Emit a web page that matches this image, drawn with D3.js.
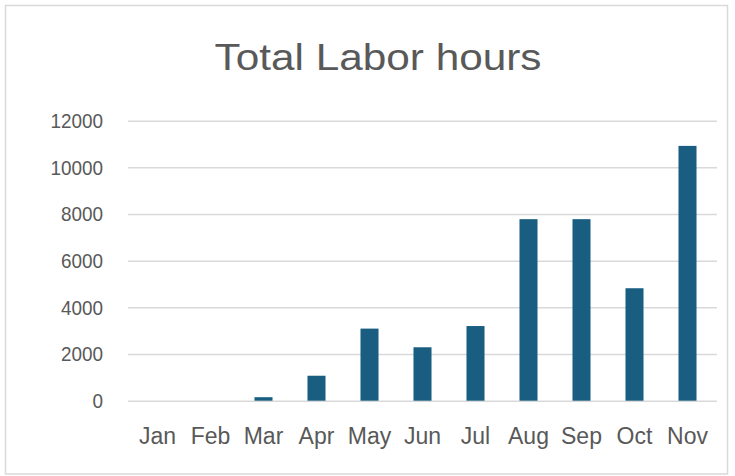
<!DOCTYPE html>
<html>
<head>
<meta charset="utf-8">
<script src="https://cdn.jsdelivr.net/npm/d3@7"></script>
<style>
  html, body { margin: 0; padding: 0; background: #fff; }
  svg { display: block; }
  text { font-family: "Liberation Sans", Arial, sans-serif; }
</style>
</head>
<body>
<svg id="chart" width="735" height="476"></svg>
<script>
const title = "Total Labor hours";
const months = ["Jan", "Feb", "Mar", "Apr", "May", "Jun", "Jul", "Aug", "Sep", "Oct", "Nov"];
const laborHours = [0, 0, 150, 1070, 3090, 2290, 3200, 7780, 7780, 4820, 10920];
const yTicks = [0, 2000, 4000, 6000, 8000, 10000, 12000];

const svg = d3.select("#chart");

svg.append("rect")
  .attr("x", 5.5).attr("y", 5.5)
  .attr("width", 722).attr("height", 468.5)
  .attr("fill", "#fff").attr("stroke", "#d9d9d9").attr("stroke-width", 1.5);

const plot = { left: 128, right: 717, top: 120.7, bottom: 400.7 };

const x = d3.scaleBand().domain(months).range([131, 714]).paddingInner(0.66).paddingOuter(0.33);
const y = d3.scaleLinear().domain([0, 12000]).range([plot.bottom, plot.top]);

// gridlines
svg.append("g")
  .attr("transform", `translate(${plot.left},0)`)
  .call(d3.axisLeft(y).tickValues(yTicks).tickSize(-(plot.right - plot.left)).tickFormat(""))
  .call(g => g.select(".domain").remove())
  .call(g => g.selectAll("line").attr("stroke", "#d9d9d9").attr("stroke-width", 1.5));

// y labels (slightly condensed like the original font)
svg.append("g")
  .attr("transform", `translate(103,0)`)
  .call(d3.axisLeft(y).tickValues(yTicks).tickSize(0).tickPadding(0).tickFormat(d3.format("d")))
  .call(g => g.select(".domain").remove())
  .call(g => g.selectAll("text")
    .attr("fill", "#595959").attr("font-size", "21px")
    .each(function() {
      const w = this.getComputedTextLength();
      d3.select(this).attr("textLength", w * 0.9).attr("lengthAdjust", "spacingAndGlyphs");
    }));

// bars
svg.append("g").selectAll("rect")
  .data(months.map((m, i) => ({ m, v: laborHours[i] })))
  .join("rect")
  .attr("x", d => x(d.m))
  .attr("width", x.bandwidth())
  .attr("y", d => y(d.v))
  .attr("height", d => y(0) - y(d.v))
  .attr("fill", "#195E80");

// x labels
svg.append("g")
  .attr("transform", `translate(0,${plot.bottom})`)
  .call(d3.axisBottom(x).tickSize(0).tickPadding(27))
  .call(g => g.select(".domain").remove())
  .call(g => g.selectAll("text").attr("fill", "#595959").attr("font-size", "23px"));

// title
svg.append("text")
  .attr("x", 378).attr("y", 70)
  .attr("text-anchor", "middle")
  .attr("fill", "#595959")
  .attr("font-size", "36px")
  .attr("textLength", 327)
  .attr("lengthAdjust", "spacingAndGlyphs")
  .text(title);
</script>
</body>
</html>
